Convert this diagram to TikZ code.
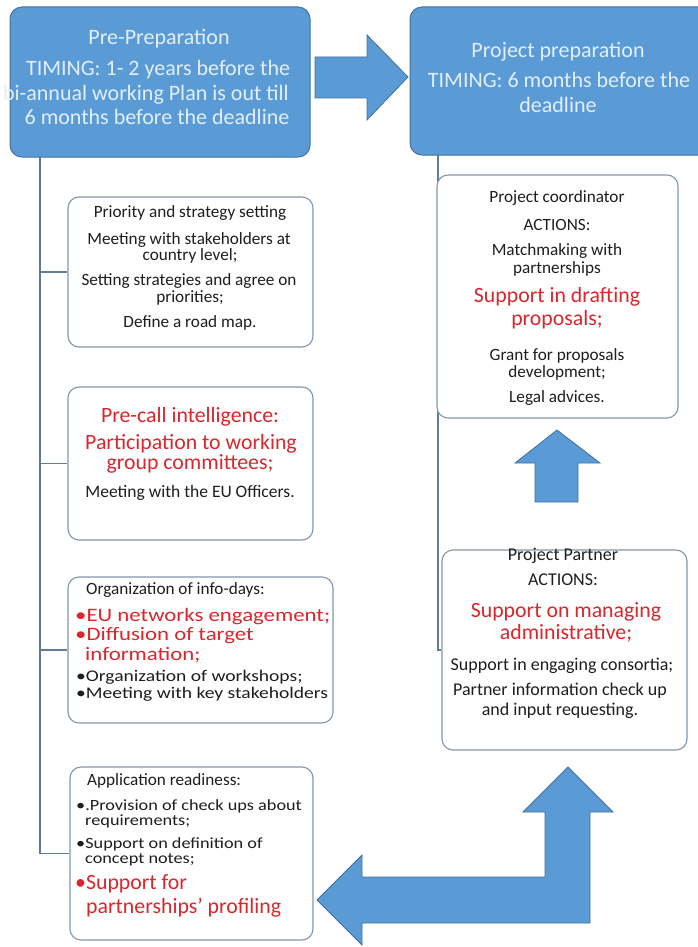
\documentclass[tikz,border=0pt]{standalone}
\usepackage{fontspec}
\setmainfont{Carlito}
\newfontfamily\widea[FakeStretch=1.2]{Carlito}
\newfontfamily\wideb[FakeStretch=1.17]{Carlito}
\pgfdeclarelayer{bg}
\pgfsetlayers{bg,main}
\begin{document}
\begin{tikzpicture}[x=1pt,y=-1pt,
  hdr/.style={draw=hdrline,fill=hdrfill,rounded corners=12pt,line width=1pt,inner sep=0pt},
  box/.style={draw=boxline,fill=white,rounded corners=11pt,line width=1.1pt,inner sep=0pt},
  conn/.style={draw=connline,line width=1.2pt},
  barrow/.style={draw=hdrline,fill=hdrfill,line width=0.8pt},
  htxt/.style={text=hdrtext,font=\fontsize{22}{25}\selectfont,anchor=mid,inner sep=0pt},
  stxt/.style={text=textblack,font=\fontsize{17.2}{19}\selectfont,anchor=mid,inner sep=0pt},
  ptxt/.style={text=textblack,font=\fontsize{18}{20}\selectfont,anchor=mid,inner sep=0pt},
  btxt/.style={text=textblack,font=\widea\fontsize{16.3}{18}\selectfont,anchor=mid west,inner sep=0pt},
  qtxt/.style={text=textblack,font=\wideb\fontsize{15.6}{17}\selectfont,anchor=mid west,inner sep=0pt},
  rtxt/.style={text=textred,font=\fontsize{21.8}{24}\selectfont,anchor=mid,inner sep=0pt},
  rbig/.style={text=textred,font=\widea\fontsize{19}{21}\selectfont,anchor=mid west,inner sep=0pt},
]
\definecolor{hdrfill}{RGB}{91,155,213}
\definecolor{hdrline}{RGB}{65,113,156}
\definecolor{hdrtext}{RGB}{226,238,250}
\definecolor{boxline}{RGB}{132,150,168}
\definecolor{connline}{RGB}{95,125,150}
\definecolor{textblack}{RGB}{30,30,30}
\definecolor{textred}{RGB}{218,38,45}
\useasboundingbox (0,0) rectangle (697,947);

% header boxes
\node[hdr,minimum width=300pt,minimum height=150pt] (pp) at (160,82) {};
\node[hdr,minimum width=302pt,minimum height=148pt] (pj) at (561,81) {};

% content boxes
\node[box,minimum width=245pt,minimum height=150pt] (b1) at (190.5,272) {};
\node[box,minimum width=245pt,minimum height=153pt] (b2) at (190.5,463.5) {};
\node[box,minimum width=265pt,minimum height=146pt] (b3) at (200.5,650) {};
\node[box,minimum width=243pt,minimum height=173pt] (b4) at (191.5,853.5) {};
\node[box,minimum width=241pt,minimum height=243pt] (pc) at (557.5,296.5) {};
\node[box,minimum width=245pt,minimum height=200pt] (pb) at (564.5,650) {};

\begin{pgfonlayer}{bg}
\fill[white] (0,0) rectangle (697,947);
% connectors left
\coordinate (lt) at (40,157);
\draw[conn] (lt) |- (b4.west);
\draw[conn] (lt |- b1.west) -- (b1.west);
\draw[conn] (lt |- b2.west) -- (b2.west);
\draw[conn] (lt |- b3.west) -- (b3.west);
% connector right
\coordinate (rt) at (438,155);
\draw[conn] (rt) |- (pb.west);
\end{pgfonlayer}

% block arrows
\draw[barrow] (315,57) -- (367,57) -- (367,35) -- (408,77) -- (367,120) -- (367,98) -- (315,98) -- cycle;
\draw[barrow] (535,502) -- (535,463) -- (515,463) -- (557,430) -- (600,463) -- (578,463) -- (578,502) -- cycle;
\draw[barrow] (568,767) -- (613,812) -- (590,812) -- (590,923) -- (362,923) -- (362,945) -- (317,900)
  -- (362,855) -- (362,877) -- (545,877) -- (545,812) -- (523,812) -- cycle;

% header texts
\node[htxt] (h1) at (159,42) {Pre-Preparation};
\node[htxt] (h2) at (158,73) {TIMING: 1- 2 years before the};
\node[htxt] (h3) at (146,98) {bi-annual working Plan is out till};
\node[htxt] (h4) at (157,122) {6 months before the deadline};
\node[htxt] (h5) at (558,55) {Project preparation};
\node[htxt] (h6) at (559,85) {TIMING: 6 months before the};
\node[htxt] (h7) at (558,110) {deadline};

% box 1
\node[stxt] (a1) at (190,215) {Priority and strategy setting};
\node[stxt] (a2) at (189,242) {Meeting with stakeholders at};
\node[stxt] (a3) at (190,258) {country level;};
\node[stxt] (a4) at (189,283) {Setting strategies and agree on};
\node[stxt] (a5) at (190,300) {priorities;};
\node[stxt] (a6) at (190,325) {Define a road map.};

% box 2
\node[rtxt] (c1) at (190,420) {Pre-call intelligence:};
\node[rtxt] (c2) at (191,447) {Participation to working};
\node[rtxt] (c3) at (190,467) {group committees;};
\node[stxt,font=\fontsize{17.5}{19}\selectfont] (c4) at (190,495) {Meeting with the EU Officers.};

% box 3
\node[stxt,anchor=mid west] (d1) at (86,592) {Organization of info-days:};
\node[rbig] (d2) at (75,619) {•EU networks engagement;};
\node[rbig] (d3) at (75,638) {•Diffusion of target};
\node[rbig] (d4) at (85,658) {information;};
\node[btxt] (d5) at (76,679) {•Organization of workshops;};
\node[btxt] (d6) at (76,696) {•Meeting with key stakeholders};

% box 4
\node[stxt,anchor=mid west] (e1) at (87,783) {Application readiness:};
\node[qtxt] (e2) at (76,808) {•.Provision of check ups about};
\node[qtxt] (e3) at (85,823) {requirements;};
\node[qtxt] (e4) at (76,846) {•Support on definition of};
\node[qtxt] (e5) at (85,861) {concept notes;};
\node[rtxt,anchor=mid west] (e6) at (75,887) {•Support for};
\node[rtxt,anchor=mid west] (e7) at (86,911) {partnerships' profiling};

% coordinator
\node[stxt] (f1) at (557,200) {Project coordinator};
\node[stxt] (f2) at (557,228) {ACTIONS:};
\node[stxt] (f3) at (557,253) {Matchmaking with};
\node[stxt] (f4) at (557,271) {partnerships};
\node[rtxt] (f5) at (557,300) {Support in drafting};
\node[rtxt] (f6) at (557,323) {proposals;};
\node[stxt] (f7) at (557,358) {Grant for proposals};
\node[stxt] (f8) at (557,375) {development;};
\node[stxt] (f9) at (557,400) {Legal advices.};

% partner
\node[ptxt] (g1) at (563,558) {Project Partner};
\node[ptxt] (g2) at (563,583) {ACTIONS:};
\node[rtxt] (g3) at (566,615) {Support on managing};
\node[rtxt] (g4) at (566,637) {administrative;};
\node[ptxt] (g5) at (562,668) {Support in engaging consortia;};
\node[ptxt] (g6) at (560,693) {Partner information check up};
\node[ptxt] (g7) at (560,713) {and input requesting.};
\end{tikzpicture}
\end{document}
